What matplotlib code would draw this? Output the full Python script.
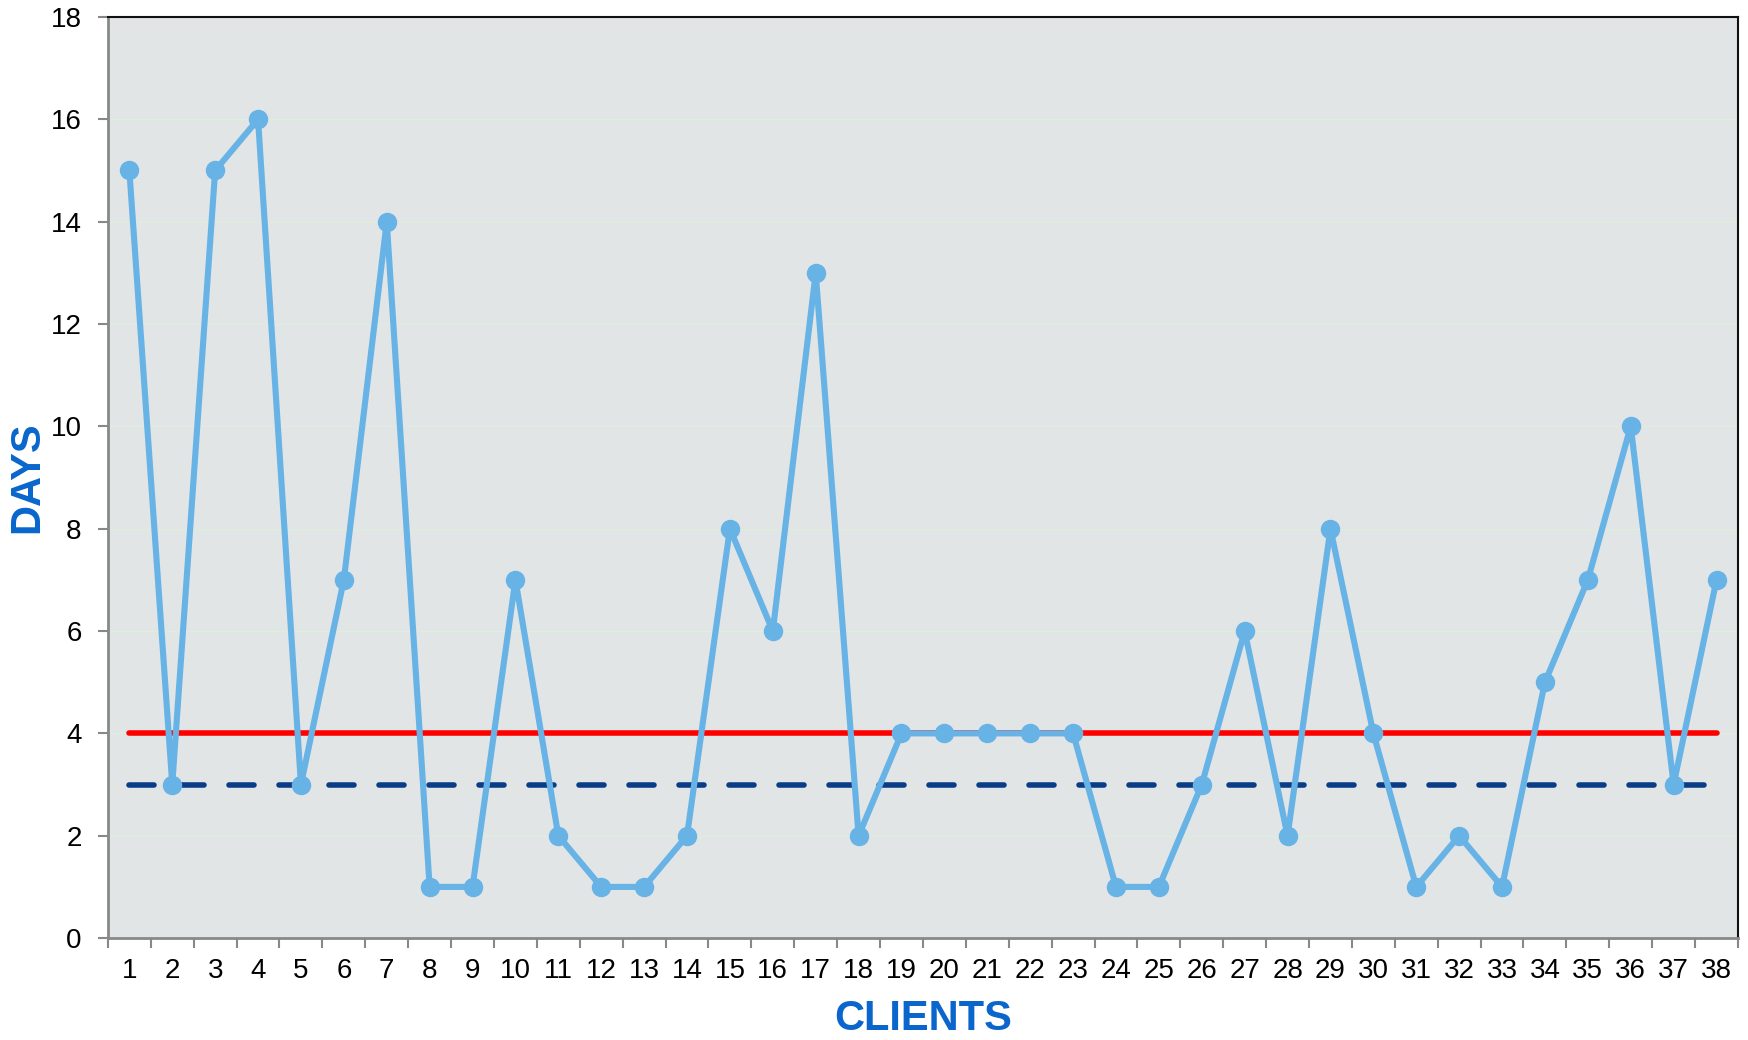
import matplotlib.pyplot as plt
import numpy as np

plt.rcParams['font.family'] = ['Liberation Sans', 'DejaVu Sans']

# days per client
clients = np.arange(1, 39)
days = [15, 3, 15, 16, 3, 7, 14, 1, 1, 7, 2, 1, 1, 2, 8, 6, 13, 2, 4, 4,
        4, 4, 4, 1, 1, 3, 6, 2, 8, 4, 1, 2, 1, 5, 7, 10, 3, 7]
target = 4
average = 3

fig = plt.figure(figsize=(17.49, 10.40), dpi=100)
ax = fig.add_axes([0.0617, 0.098, 0.932, 0.8857])
ax.set_facecolor('#E1E5E6')

for y in range(2, 18, 2):
    ax.axhline(y, color='#DDEEDD', lw=1, zorder=0)

ax.plot(clients, [target] * len(clients), color='#FF0000', lw=4,
        solid_capstyle='round', zorder=2)
ax.plot(clients, [average] * len(clients), color='#0B3D86', lw=4,
        ls=(0, (4.5, 4.5)), dash_capstyle='round', zorder=2)
ax.plot(clients, days, color='#68B3E6', lw=4.4, marker='o', markersize=13,
        zorder=3)

ax.set_xlim(0.5, 38.5)
ax.set_ylim(0, 18)
ax.set_yticks(range(0, 19, 2))
ax.set_xticks(clients)
ax.set_xticks(np.arange(0.5, 39, 1), minor=True)
ax.tick_params(axis='x', which='major', length=0, pad=14, labelsize=20)
ax.tick_params(axis='x', which='minor', length=7, width=1.5, color='#888888')
ax.tick_params(axis='y', length=7, width=1.5, color='#888888', labelsize=20, pad=12)

for side in ['left', 'bottom']:
    ax.spines[side].set_color('#888888')
    ax.spines[side].set_linewidth(2)
for side in ['top', 'right']:
    ax.spines[side].set_color('#111111')
    ax.spines[side].set_linewidth(1.5)

ax.set_xlabel('CLIENTS', fontsize=30, fontweight='bold', color='#0A66CC')
ax.set_ylabel('DAYS', fontsize=30, fontweight='bold', color='#0A66CC')
ax.xaxis.set_label_coords(0.5, -0.088)
ax.yaxis.set_label_coords(-0.0497, 0.5)
ax.yaxis.label.set_va('center')
ax.xaxis.label.set_va('center')

fig.savefig('out.png', dpi=100)
